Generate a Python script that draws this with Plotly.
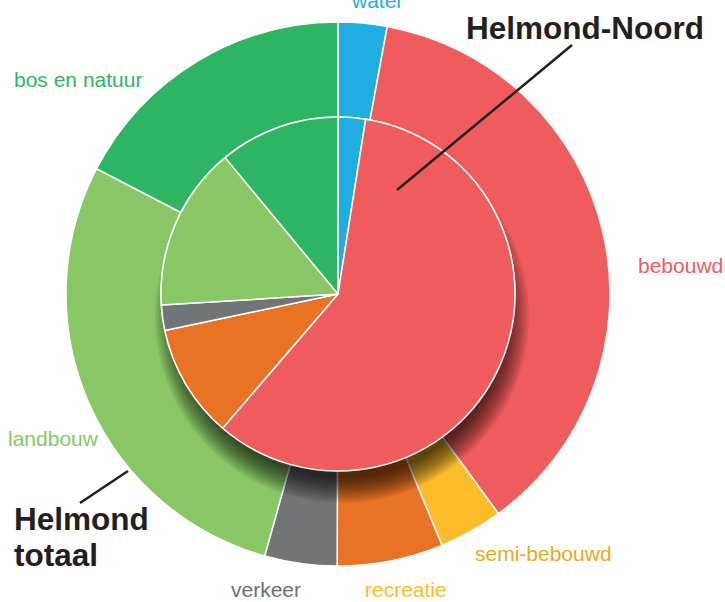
import plotly.graph_objects as go

# ---------------- data ----------------
categories = ["water", "bebouwd", "semi-bebouwd", "recreatie", "verkeer", "landbouw", "bos en natuur"]
helmond_totaal = [2.9, 37.1, 3.8, 6.3, 4.3, 28.3, 17.4]      # outer ring (%)
helmond_noord = [2.5, 58.8, 0.0, 10.4, 2.3, 15.0, 11.0]      # inner pie (%)

colors = ["#1FADE4", "#F05C5E", "#FDBD2A", "#E87324", "#717578", "#88C666", "#2DB563"]
label_colors = ["#1FADE4", "#F05C5E", "#E9A923", "#FDBD2A", "#6D7073", "#88C666", "#2DB563"]

# ---------------- layout helpers ----------------
W, H = 725, 602
CX, CY = 338, 294
R_OUT, R_IN = 272, 177


def dom(cx, cy, r):
    return dict(x=[(cx - r) / W, (cx + r) / W], y=[1 - (cy + r) / H, 1 - (cy - r) / H])


def px(x):
    return x / W


def py(y):
    return 1 - y / H


fig = go.Figure()

# outer ring: Helmond totaal
fig.add_trace(go.Pie(
    labels=categories, values=helmond_totaal, sort=False, direction="clockwise", rotation=0,
    hole=R_IN / R_OUT, domain=dom(CX, CY, R_OUT),
    marker=dict(colors=colors, line=dict(color="white", width=1.5)),
    textinfo="none", hoverinfo="label+value", showlegend=False,
))

# soft drop shadow of the inner pie (stack of translucent discs)
n_layers = 13
for i in range(n_layers):
    r = R_IN + 10 - i * 2
    fig.add_trace(go.Pie(
        values=[1], sort=False, domain=dom(CX + 4, CY + 22, r),
        marker=dict(colors=["rgba(0,0,0,0.072)"], line=dict(width=0)),
        textinfo="none", hoverinfo="skip", showlegend=False,
    ))

# inner pie: Helmond-Noord
inner = [(c, v, col) for c, v, col in zip(categories, helmond_noord, colors) if v > 0]
fig.add_trace(go.Pie(
    labels=[c for c, _, _ in inner], values=[v for _, v, _ in inner],
    sort=False, direction="clockwise", rotation=0,
    domain=dom(CX, CY, R_IN),
    marker=dict(colors=[col for _, _, col in inner], line=dict(color="white", width=1.5)),
    textinfo="none", hoverinfo="label+value", showlegend=False,
))

# category labels around the ring
label_pos = {
    "water": (377, 1),
    "bebouwd": (680, 265),
    "semi-bebouwd": (543, 553),
    "recreatie": (406, 589),
    "verkeer": (266, 589),
    "landbouw": (54, 439),
    "bos en natuur": (78, 80),
}
FONT = "Arial, Liberation Sans, Helvetica, sans-serif"
for cat, lc in zip(categories, label_colors):
    x, y = label_pos[cat]
    fig.add_annotation(x=px(x), y=py(y), xref="paper", yref="paper", text=cat,
                       showarrow=False, xanchor="center", yanchor="middle",
                       font=dict(family=FONT, size=21, color=lc))

# series titles
dark = "#231F20"
fig.add_annotation(x=px(585), y=py(28), xref="paper", yref="paper", text="<b>Helmond-Noord</b>",
                   showarrow=False, xanchor="center", yanchor="middle",
                   font=dict(family=FONT, size=31.5, color=dark))
fig.add_annotation(x=px(12), y=py(519), xref="paper", yref="paper", text="<b>Helmond</b>",
                   showarrow=False, xanchor="left", yanchor="middle",
                   font=dict(family=FONT, size=31.5, color=dark))
fig.add_annotation(x=px(12), y=py(555), xref="paper", yref="paper", text="<b>totaal</b>",
                   showarrow=False, xanchor="left", yanchor="middle",
                   font=dict(family=FONT, size=31.5, color=dark))

# leader lines
fig.add_shape(type="line", xref="paper", yref="paper",
              x0=px(572), y0=py(45), x1=px(397), y1=py(190),
              line=dict(color=dark, width=2.5))
fig.add_shape(type="line", xref="paper", yref="paper",
              x0=px(128), y0=py(471), x1=px(80), y1=py(503),
              line=dict(color=dark, width=2.5))

fig.update_layout(
    width=W, height=H, margin=dict(l=0, r=0, t=0, b=0),
    paper_bgcolor="white", plot_bgcolor="white", showlegend=False,
)

fig.write_html("out.html")
